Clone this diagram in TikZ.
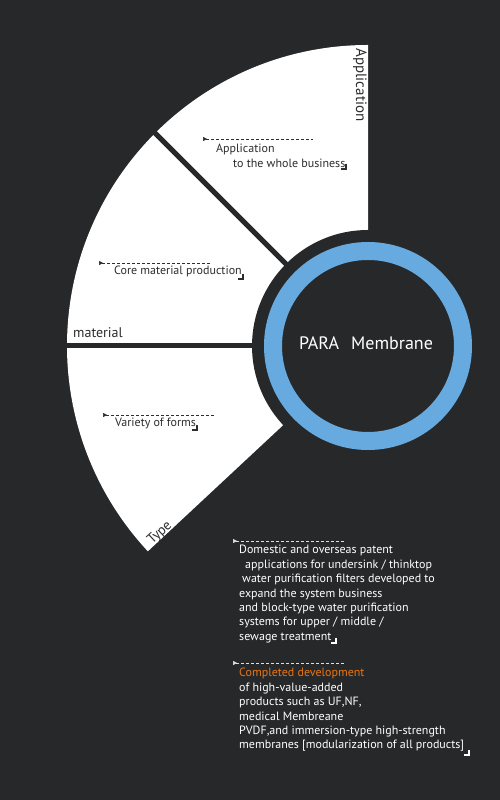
\documentclass[tikz,border=0pt]{standalone}
\usepackage{fontspec}
\setmainfont{PT Sans}
\usetikzlibrary{arrows.meta, positioning, calc}
\definecolor{slate}{RGB}{39, 40, 42}
\definecolor{ringblue}{RGB}{102, 170, 224}
\definecolor{inkgray}{RGB}{45, 45, 45}
\definecolor{amber}{RGB}{232, 118, 20}

\begin{document}
\begin{tikzpicture}[
            x=1pt, y=1pt,
            divider/.style={draw=slate, line width=5pt},
            ring/.style={draw=ringblue, line width=18pt},
            secttitle/.style={text=inkgray, inner sep=0pt, font=\fontsize{15}{18}\selectfont},
            notetext/.style={text=inkgray, inner sep=0pt, align=left, font=\fontsize{12}{14.4}\selectfont},
            sidetext/.style={text=white, inner sep=0pt, align=left, font=\fontsize{12}{14.4}\selectfont},
            leader/.style={dash pattern=on 3pt off 2pt, line width=0.5pt, {Triangle[reversed, length=4pt, width=4pt]}-},
            endmark/.style={line width=1.8pt}
        ]
            \useasboundingbox (0,0) rectangle (500,800);
            \fill[slate] (0,0) rectangle (500,800);
            \coordinate (c) at (368,454);

            % White fan of the three sectors
            \fill[white] (c) -- ++(90:301) arc[start angle=90, end angle=223, radius=301] -- cycle;
            \draw[divider] (c) -- ++(135:306);
            \draw[divider] (c) -- ++(180:306);
            \fill[slate] (c) circle (116);

            % Centre ring
            \draw[ring] (c) circle (95);
            \node[text=white, inner sep=0pt, font=\fontsize{18}{21}\selectfont, anchor=base] (core) at (366,450) {PARA\hspace{12pt}Membrane};

            % Sector titles
            \node[secttitle, rotate=-90] (apptitle) at (360,715) {Application};
            \node[secttitle, anchor=base west, font=\fontsize{14}{17}\selectfont] (mattitle) at (73,462) {material};
            \node[secttitle, rotate=43, font=\fontsize{14}{17}\selectfont] (typetitle) at (160,267) {Type};

            % Notes inside the sectors
            \coordinate (appl) at (203,661);
            \draw[leader, inkgray] (appl) -- ++(110,0);
            \node[notetext, anchor=north west] (appnote) at (216,656) {Application\\\hspace*{17pt}to the whole business};
            \draw[endmark, inkgray] (346,636) -- (346,631) -- (341,631);

            \coordinate (corel) at (99,537);
            \draw[leader, inkgray] (corel) -- ++(113,0);
            \node[notetext, anchor=base west] (corenote) at (114,525) {Core material production};
            \draw[endmark, inkgray] (243,526) -- (243,521) -- (238,521);

            \coordinate (forml) at (103,385);
            \draw[leader, inkgray] (forml) -- ++(112,0);
            \node[notetext, anchor=base west] (formnote) at (115,373) {Variety of forms};
            \draw[endmark, inkgray] (197,375) -- (197,370) -- (192,370);

            % Notes on the dark side
            \coordinate (patl) at (233,259);
            \draw[leader, white!85!slate] (patl) -- ++(112,0);
            \node[sidetext, anchor=north west] (patnote) at (239,254.8) {Domestic and overseas patent\\
                \hspace*{6pt}applications for undersink / thinktop\\
                \hspace*{3pt}water purification filters developed to\\
                expand the system business\\
                and block-type water purification\\
                systems for upper / middle /\\
                sewage treatment};
            \draw[endmark, white] (336,162) -- (336,157) -- (331,157);

            \coordinate (devl) at (233,137);
            \draw[leader, white!85!slate] (devl) -- ++(112,0);
            \node[sidetext, anchor=north west] (devnote) at (239,131.8) {\textcolor{amber}{Completed development}\\
                of high-value-added\\
                products such as UF,NF,\\
                medical Membreane\\
                PVDF,and immersion-type high-strength\\
                membranes [modularization of all products]};
            \draw[endmark, white] (469,50) -- (469,45) -- (464,45);

        \end{tikzpicture}
\end{document}
